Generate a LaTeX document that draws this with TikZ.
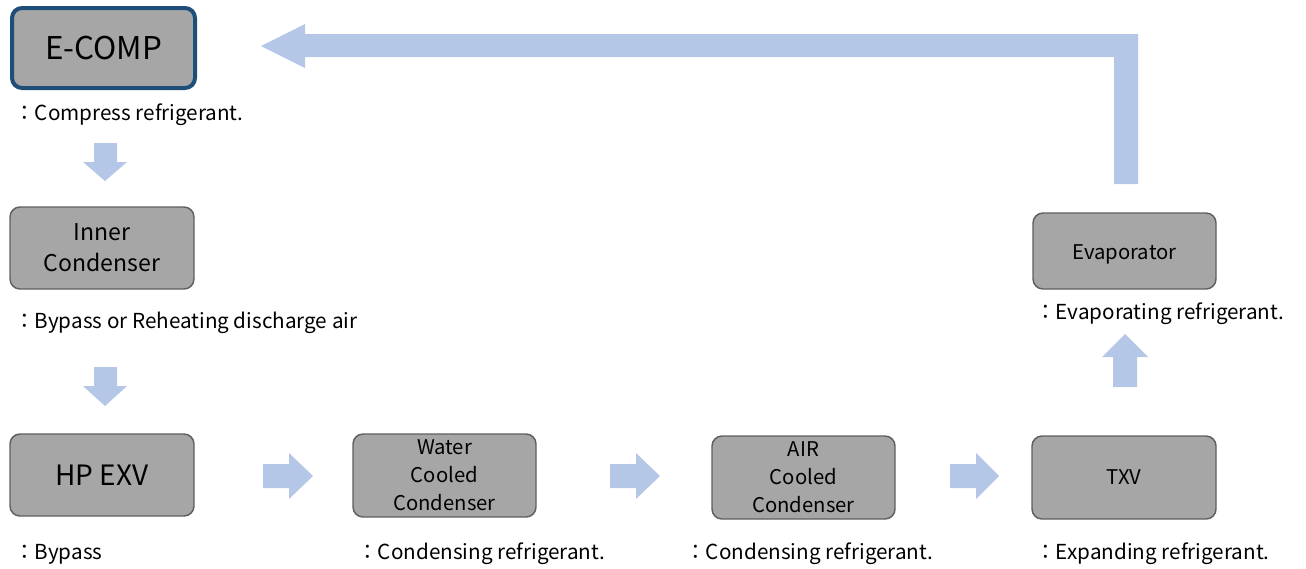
\documentclass[tikz,border=0pt]{standalone}
\usepackage{fontspec}
\setmainfont{Noto Sans CJK KR}
\definecolor{boxfill}{HTML}{A6A6A6}
\definecolor{boxline}{HTML}{5F5F5F}
\definecolor{compline}{HTML}{1F4E79}
\definecolor{flow}{HTML}{B4C7E7}
\tikzset{
  unitbox/.style={draw=boxline, line width=1.1pt, fill=boxfill, rounded corners=7.5pt,
    align=center, inner sep=0pt, text=black},
  comptext/.style={font=\fontsize{23.5}{27}\selectfont},
  bigtext/.style={font=\fontsize{21}{25}\selectfont},
  midtext/.style={font=\fontsize{17.3}{23.5}\selectfont},
  smalltext/.style={font=\fontsize{15.2}{21}\selectfont},
  desc/.style={anchor=west, inner sep=0pt, font=\fontsize{15.5}{18}\selectfont, text=black},
  flowarrow/.style={fill=flow, draw=none}
}
\begin{document}
\begin{tikzpicture}[x=0.75pt,y=-0.75pt]
\useasboundingbox (0,0) rectangle (1306,568);

% boxes
\node[unitbox, comptext, draw=compline, line width=3pt, minimum width=137.25pt, minimum height=60pt] (ecomp) at (103.5,48) {E-COMP};
\node[unitbox, midtext, minimum width=138pt, minimum height=61.5pt] (inner) at (102,248) {Inner\\Condenser};
\node[unitbox, bigtext, minimum width=138pt, minimum height=61.5pt] (hpexv) at (102,475) {HP EXV};
\node[unitbox, smalltext, minimum width=137.25pt, minimum height=62.25pt] (water) at (444.5,475.5) {Water\\Cooled\\Condenser};
\node[unitbox, smalltext, minimum width=137.25pt, minimum height=62.25pt] (air) at (803.5,477.5) {AIR\\Cooled\\Condenser};
\node[unitbox, smalltext, minimum width=138pt, minimum height=62.25pt] (txv) at (1124,477.5) {TXV};
\node[unitbox, smalltext, minimum width=137.25pt, minimum height=57pt, text depth=0pt] (evap) at (1124.5,251) {\raisebox{-2pt}{Evaporator}};

% descriptions
\node[desc] (dcomp) at (14,115) {：Compress refrigerant.};
\node[desc] (dinner) at (14,323) {：Bypass or Reheating discharge air};
\node[desc] (dhp) at (14,554) {：Bypass};
\node[desc] (dwater) at (357,554) {：Condensing refrigerant.};
\node[desc] (dair) at (685,554) {：Condensing refrigerant.};
\node[desc] (dtxv) at (1035,554) {：Expanding refrigerant.};
\node[desc] (devap) at (1035,314) {：Evaporating refrigerant.};

% flow arrows
\fill[flowarrow] (94,143) -- (117,143) -- (117,162) -- (127,162) -- (105,181) -- (83,162) -- (94,162) -- cycle;
\fill[flowarrow] (94,367) -- (117,367) -- (117,386) -- (127,386) -- (105,406) -- (83,386) -- (94,386) -- cycle;
\fill[flowarrow] (263,464) -- (289,464) -- (289,453) -- (313,476) -- (289,499) -- (289,488) -- (263,488) -- cycle;
\fill[flowarrow] (610,464) -- (636,464) -- (636,453) -- (660,476) -- (636,499) -- (636,488) -- (610,488) -- cycle;
\fill[flowarrow] (950,464) -- (976,464) -- (976,453) -- (999,476) -- (976,499) -- (976,488) -- (950,488) -- cycle;
\fill[flowarrow] (1113,387) -- (1137,387) -- (1137,357) -- (1148,357) -- (1125,334) -- (1102,357) -- (1113,357) -- cycle;
\fill[flowarrow] (1138,184) -- (1138,34) -- (305,34) -- (305,24) -- (261,46) -- (305,68) -- (305,57) -- (1114,57) -- (1114,184) -- cycle;
\end{tikzpicture}
\end{document}
